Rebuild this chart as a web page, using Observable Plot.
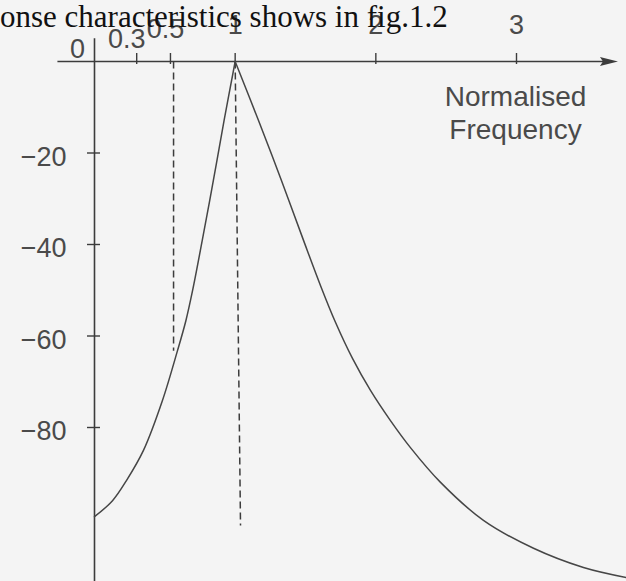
<!DOCTYPE html>
<html><head><meta charset="utf-8">
<script src="https://cdn.jsdelivr.net/npm/d3@7"></script>
<script src="https://cdn.jsdelivr.net/npm/@observablehq/plot@0.6"></script>
<style>
html,body{margin:0;padding:0;background:#f4f4f4;}
#wrap{position:relative;width:626px;height:581px;overflow:hidden;background:#f4f4f4;}
#note{position:absolute;left:0;top:1px;font-family:"Liberation Serif","Times New Roman",serif;font-size:31px;line-height:31px;color:#111;white-space:nowrap;pointer-events:none;}
</style></head><body>
<div id="wrap"><div id="note">onse characteristics shows in fig.1.2</div></div>
<script>
// Tick marks on the frequency axis (positions as drawn) and their labels
const xTickValues = [0, 0.3, 0.54, 1, 2, 3];
const xTickLabels = ["0", "0.3", "0.5", "1", "2", "3"];
// Attenuation axis ticks (dB)
const yTickValues = [-20, -40, -60, -80];

// Response curve, below the peak (normalised frequency, dB)
const lowerFreq = [0, 0.128, 0.227, 0.348, 0.483, 0.590, 0.650, 0.697, 0.766, 0.845, 0.921, 1];
const lowerGain = [-99.5, -96.0, -91.6, -85.0, -74.1, -63.2, -56.6, -50.1, -39.1, -26.0, -12.9, 0];
// Response curve, above the peak
const upperFreq = [1, 1.166, 1.329, 1.486, 1.607, 1.713, 1.834, 1.962, 2.104, 2.246, 2.460, 2.765, 3.121, 3.476, 3.782];
const upperGain = [0, -12.9, -26.0, -39.1, -49.0, -57.0, -64.9, -71.9, -78.5, -84.4, -92.0, -100.3, -106.4, -110.6, -112.8];

// Dashed marker lines
const markerFreqTop = [0.562, 1.0];
const markerFreqBottom = [0.562, 1.038];
const markerGainBottom = [-63.2, -101.4];

const axisTitle = ["Normalised", "Frequency"];

const ink = "#3c3c3c";
const curveInk = "#464646";
const textInk = "#4a4a4a";
const lowerPts = lowerFreq.map((f, i) => ({f, g: lowerGain[i]}));
const upperPts = upperFreq.map((f, i) => ({f, g: upperGain[i]}));
const dashes = markerFreqTop.map((f, i) => ({x1: f, x2: markerFreqBottom[i], y2: markerGainBottom[i]}));
const fmt = d => xTickLabels[xTickValues.indexOf(d)];

const arrowHead = {draw(ctx) { ctx.moveTo(3, 0); ctx.lineTo(-15, -4.5); ctx.lineTo(-12, 0); ctx.lineTo(-15, 4.5); ctx.closePath(); }};

const plot = Plot.plot({
  width: 626, height: 581,
  marginTop: 61, marginLeft: 94, marginRight: 0, marginBottom: 0,
  style: {background: "#f4f4f4", fontFamily: "'Liberation Sans', Arial, sans-serif"},
  x: {domain: [0, 3], range: [94, 516]},
  y: {domain: [0, -80], range: [61, 427]},
  marks: [
    Plot.ruleY([0], {x1: -0.26, x2: 3.62, stroke: ink, strokeWidth: 1.6}),
    Plot.dot([3.7], {x: d => d, y: () => 0, symbol: arrowHead, fill: ink, stroke: "none"}),
    Plot.ruleX([0], {y1: 5, y2: -114, stroke: ink, strokeWidth: 1.6}),
    Plot.axisX(xTickValues.slice(1), {anchor: "top", tickSize: 11, dy: 2, tickFormat: () => "", label: null, color: ink, strokeWidth: 1.4}),
    Plot.axisX(xTickValues.slice(0, 1), {anchor: "top", tickSize: 0, tickPadding: 0, dx: -17, dy: -4, tickFormat: fmt, label: null, fontSize: 27, color: textInk}),
    Plot.axisX(xTickValues.slice(1, 2), {anchor: "top", tickSize: 0, tickPadding: 0, dx: -10, dy: -14, tickFormat: fmt, label: null, fontSize: 27, color: textInk}),
    Plot.axisX(xTickValues.slice(2, 3), {anchor: "top", tickSize: 0, tickPadding: 0, dx: -5, dy: -24, tickFormat: fmt, label: null, fontSize: 27, color: textInk}),
    Plot.axisX(xTickValues.slice(3), {anchor: "top", tickSize: 0, tickPadding: 0, dx: 0, dy: -28, tickFormat: fmt, label: null, fontSize: 27, color: textInk}),
    Plot.axisY(yTickValues, {anchor: "left", tickSize: 13, dx: 6, tickFormat: () => "", label: null, color: ink, strokeWidth: 1.4}),
    Plot.axisY(yTickValues, {anchor: "left", tickSize: 0, tickPadding: 28, dy: 4, tickFormat: d => "\u2212" + Math.abs(d), label: null, fontSize: 27, color: textInk}),
    Plot.link(dashes, {x1: "x1", y1: () => 0, x2: "x2", y2: "y2", stroke: ink, strokeWidth: 1.5, strokeDasharray: "7,4"}),
    Plot.line(lowerPts, {x: "f", y: "g", curve: "catmull-rom", stroke: curveInk, strokeWidth: 1.5}),
    Plot.line(upperPts, {x: "f", y: "g", curve: "catmull-rom", stroke: curveInk, strokeWidth: 1.5}),
    Plot.text([axisTitle.join("\n")], {text: d => d, frameAnchor: "top-right", textAnchor: "middle", lineAnchor: "top", dx: -111, dy: 21, lineHeight: 1.18, fontSize: 28, fill: textInk})
  ]
});
const wrap = document.getElementById("wrap");
wrap.insertBefore(plot, document.getElementById("note"));
</script>
</body></html>
